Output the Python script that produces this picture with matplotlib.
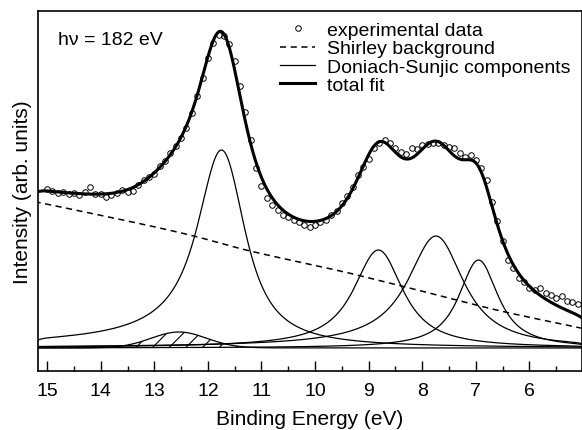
import numpy as np
import matplotlib
matplotlib.use("Agg")
import matplotlib.pyplot as plt

plt.rcParams['font.family'] = ['Liberation Sans', 'DejaVu Sans']
plt.rcParams['hatch.linewidth'] = 0.8

# experimental data (binding energy in eV, intensity in arb. units)
exp_energy = np.round(np.arange(15.0, 5.05, -0.1), 1)
exp_intensity = [
    159, 157, 155, 156, 154, 155, 153, 156, 161, 154,
    154, 151, 153, 155, 158, 156, 157, 163, 168, 171,
    174, 182, 187, 195, 202, 210, 220, 235, 252, 270,
    290, 305, 313, 312, 304, 287, 262, 236, 208, 180,
    162, 150, 143, 138, 133, 131, 128, 126, 123, 121,
    123, 126, 128, 133, 137, 145, 152, 161, 173, 181,
    189, 200, 205, 208, 205, 200, 196, 194, 200, 199,
    203, 204, 205, 205, 203, 201, 200, 195, 191, 193,
    188, 180, 168, 146, 127, 107, 88, 80, 70, 66,
    60, 58, 60, 55, 53, 50, 52, 47, 46, 44,
]

# Doniach-Sunjic component parameters
comp_center = [12.54, 11.72, 8.81, 7.73, 6.95]          # eV
comp_height = [16, 198, 98, 112, 88]                   # arb. units
comp_lfwhm = [0.05, 0.90, 1.00, 1.15, 0.80]             # Lorentzian FWHM (eV)
comp_gfwhm = [1.20, 0.35, 0.30, 0.30, 0.25]             # Gaussian FWHM (eV)
comp_asym = [0.0, 0.06, 0.02, 0.03, 0.0]                # asymmetry parameter

# Shirley-type background parameters
bg_offset = 19.5
bg_slope = 10.8
bg_shirley = 0.02

E = np.linspace(4.9, 15.3, 2081)
dE = E[1] - E[0]


def ds_conv(E0, h, fl, fg, a):
    g = fl / 2
    d = E0 - E
    y = np.cos(np.pi * a / 2 + (1 - a) * np.arctan(d / g)) / (g * g + d * d) ** ((1 - a) / 2)
    s = fg / 2.3548
    k = np.arange(-int(5 * s / dE), int(5 * s / dE) + 1) * dE
    ker = np.exp(-k ** 2 / (2 * s * s))
    y = np.convolve(y, ker / ker.sum(), mode='same')
    return h * y / y.max()


comps = [ds_conv(*p) for p in zip(comp_center, comp_height, comp_lfwhm, comp_gfwhm, comp_asym)]
ssum = np.sum(comps, axis=0)
cum = np.concatenate([[0], np.cumsum((ssum[1:] + ssum[:-1]) / 2 * dE)])
bg = bg_offset + bg_slope * (E - 5.0) + bg_shirley * cum
fit = bg + ssum

fig = plt.figure(figsize=(5.82, 4.31), dpi=100)
ax = fig.add_axes([38 / 582, (431 - 372) / 431, 544 / 582, 360 / 431])

ax.fill_between(E, 0, comps[0], facecolor='none', edgecolor='black', hatch='//', linewidth=0)
for i, c in enumerate(comps):
    ax.plot(E, c, color='black', lw=0.9, label='Doniach-Sunjic components' if i == 1 else None)
ax.plot(E, bg, color='black', lw=1.1, ls=(0, (4, 3)), label='Shirley background')
ax.plot(E, fit, color='black', lw=2.2, label='total fit')
ax.plot(exp_energy, exp_intensity, 'o', mfc='none', mec='black', ms=4, mew=0.7,
        label='experimental data')

h, l = ax.get_legend_handles_labels()
order = ['experimental data', 'Shirley background', 'Doniach-Sunjic components', 'total fit']
hd = dict(zip(l, h))
ax.legend([hd[o] for o in order], order, loc='upper left', bbox_to_anchor=(0.445, 0.971),
          frameon=False, fontsize=14, labelspacing=0.04, handlelength=1.8, handletextpad=0.6,
          borderpad=0, borderaxespad=0, numpoints=1)

ax.set_xlim(15.17, 5.02)
ax.set_ylim(-23, 337)
ax.set_xticks(range(6, 16))
ax.set_xticks(np.arange(5.5, 15.0, 1.0), minor=True)
ax.set_yticks([])
ax.tick_params(axis='x', which='major', direction='in', length=7, width=1, labelsize=14, pad=8)
ax.tick_params(axis='x', which='minor', direction='in', length=3.6, width=1)
for s in ax.spines.values():
    s.set_linewidth(1.2)
ax.set_xlabel('Binding Energy (eV)', fontsize=15, labelpad=7)
ax.set_ylabel('Intensity (arb. units)', fontsize=15)
ax.text(0.037, 0.922, 'hν = 182 eV', transform=ax.transAxes, fontsize=14, va='center')
fig.savefig('out.png', dpi=100)
